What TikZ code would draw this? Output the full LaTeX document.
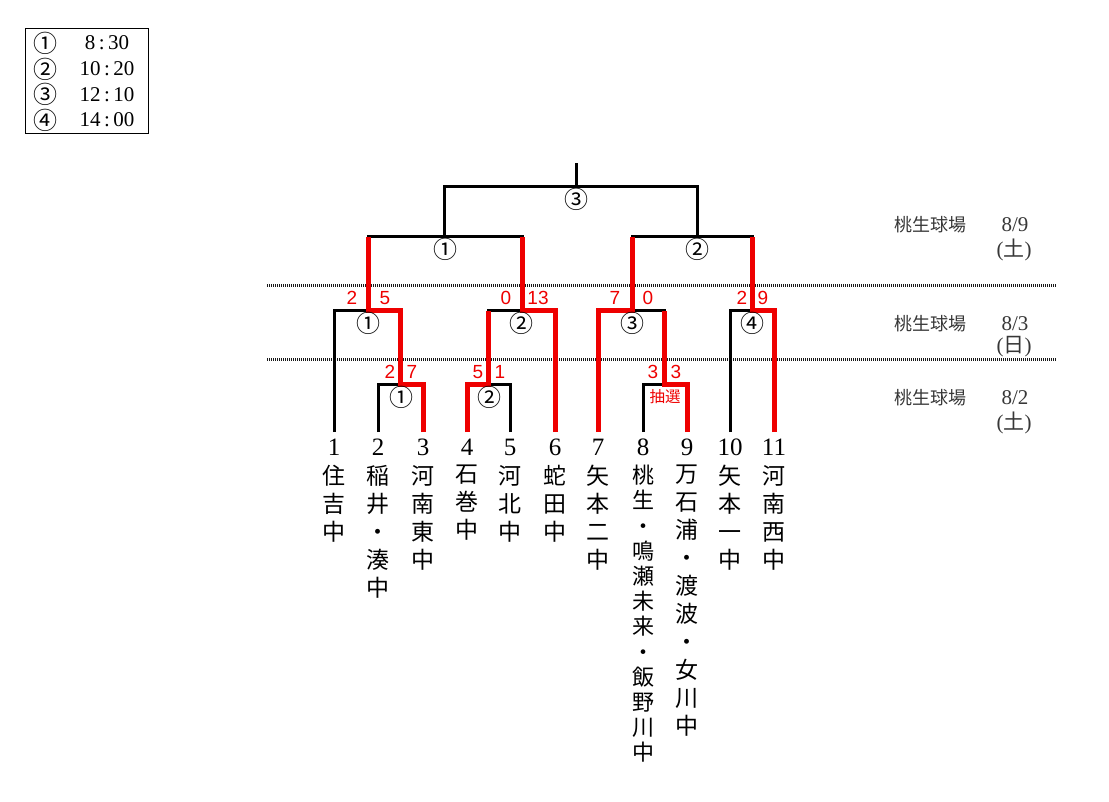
\documentclass[tikz,border=0pt]{standalone}
\usepackage{fontspec}
\setmainfont{Liberation Serif}
\newfontfamily\jpfont{Noto Sans CJK JP}
\newfontfamily\gothfont{Liberation Sans}
\definecolor{bred}{RGB}{238,0,0}
\definecolor{dgray}{RGB}{55,55,55}
\begin{document}
\begin{tikzpicture}[x=1pt,y=-1pt,
  blk/.style={line width=3pt, black},
  rd/.style={line width=5pt, bred},
  dots/.style={line width=3pt, dash pattern=on 1.2pt off 0.8pt, black!90},
  circ/.style={font=\jpfont\fontsize{24}{24}\selectfont, inner sep=0pt},
  score/.style={font=\gothfont\fontsize{19}{19}\selectfont, text=bred, inner sep=0pt},
  num/.style={font=\fontsize{25}{25}\selectfont, inner sep=0pt},
  team/.style={font=\jpfont\fontsize{23}{28}\selectfont, align=center, anchor=north, inner sep=0pt},
  teamsm/.style={font=\jpfont\fontsize{22}{25.2}\selectfont, align=center, anchor=north, inner sep=0pt},
  venue/.style={font=\jpfont\fontsize{18}{18}\selectfont, text=dgray, inner sep=0pt},
  date/.style={font=\fontsize{21}{21}\selectfont, text=dgray, inner sep=0pt},
  legtxt/.style={font=\fontsize{21}{21}\selectfont, inner sep=0pt},
]
\useasboundingbox (0,0) rectangle (1109,802);

% legend
\node[draw, line width=0.8pt, minimum width=123pt, minimum height=105pt, inner sep=0pt] (legend) at (86.5,80.5) {};
\node[circ] (lc1) at (46,43) {①};
\node[circ] (lc2) at (46,69) {②};
\node[circ] (lc3) at (46,94.5) {③};
\node[circ] (lc4) at (46,120) {④};
\node[legtxt] (lt1) at (107,43) {8\,:\,30};
\node[legtxt] (lt2) at (107,69) {10\,:\,20};
\node[legtxt] (lt3) at (107,94.5) {12\,:\,10};
\node[legtxt] (lt4) at (107,120) {14\,:\,00};

% dotted separators
\coordinate (d1a) at (267,286); \coordinate (d1b) at (1056,286);
\coordinate (d2a) at (267,360); \coordinate (d2b) at (1056,360);
\draw[dots] (d1a) -- (d1b);
\draw[dots] (d2a) -- (d2b);

% leaves
\foreach \i/\x in {1/334,2/378,3/423,4/467,5/510,6/555,7/598,8/643,9/687,10/730,11/774}{
  \coordinate (L\i) at (\x,432);
  \node[num] (n\i) at (\x,447) {\i};
}
% junctions
\coordinate (A1) at (400,385);
\coordinate (A2) at (488,385);
\coordinate (A3) at (664,385);
\coordinate (B1) at (368,311);
\coordinate (B2) at (522,311);
\coordinate (B3) at (632,311);
\coordinate (B4) at (752,311);
\coordinate (C1) at (444,237);
\coordinate (C2) at (697,237);
\coordinate (D) at (576,187);
\coordinate (T) at (576,163);

% black bracket
\draw[blk] (L2) |- (A1);
\draw[blk] (L5) |- (A2);
\draw[blk] (L8) |- (A3);
\draw[blk] (L1) |- (B1);
\draw[blk] (A2) |- (B2);
\draw[blk] (A3) |- (B3);
\draw[blk] (L10) |- (B4);
\draw[blk] (B1) |- (C1);
\draw[blk] (B2) |- (C1);
\draw[blk] (B3) |- (C2);
\draw[blk] (B4) |- (C2);
\draw[blk] (C1) |- (D);
\draw[blk] (C2) |- (D);
\draw[blk] (D) -- (T);

% winners (red)
\draw[rd] (L3) |- (A1) |- (B1) -- (B1 |- C1);
\draw[rd] (L4) |- (A2) -- (A2 |- B2);
\draw[rd] (L6) |- (B2) -- (B2 |- C1);
\draw[rd] (L7) |- (B3) -- (B3 |- C2);
\draw[rd] (L9) |- (A3) -- (A3 |- B3);
\draw[rd] (L11) |- (B4) -- (B4 |- C2);

% match labels
\node[circ] (mA1) at (401,397) {①};
\node[circ] (mA2) at (489,397) {②};
\node[font=\jpfont\fontsize{15.5}{15.5}\selectfont, text=bred, inner sep=0pt] (mA3) at (665,397) {抽選};
\node[circ] (mB1) at (368,323) {①};
\node[circ] (mB2) at (521,323) {②};
\node[circ] (mB3) at (632,323) {③};
\node[circ] (mB4) at (752,323) {④};
\node[circ] (mC1) at (445,249) {①};
\node[circ] (mC2) at (697,249) {②};
\node[circ] (mD) at (576,199) {③};

% scores
\node[score] (s1a) at (390,372) {2};
\node[score] (s1b) at (412,372) {7};
\node[score] (s2a) at (478,372) {5};
\node[score] (s2b) at (500,372) {1};
\node[score] (s3a) at (653,372) {3};
\node[score] (s3b) at (676,372) {3};
\node[score] (s4a) at (352,298) {2};
\node[score] (s4b) at (385,298) {5};
\node[score] (s5a) at (506,298) {0};
\node[score] (s5b) at (538,298) {13};
\node[score] (s6a) at (615,298) {7};
\node[score] (s6b) at (648,298) {0};
\node[score] (s7a) at (742,298) {2};
\node[score] (s7b) at (763,298) {9};

% teams
\node[team] (t1) at (334,465) {住\\吉\\中};
\node[team] (t2) at (378,465) {稲\\井\\・\\湊\\中};
\node[team] (t3) at (423,465) {河\\南\\東\\中};
\node[team] (t4) at (467,465) {石\\巻\\中};
\node[team] (t5) at (510,465) {河\\北\\中};
\node[team] (t6) at (555,465) {蛇\\田\\中};
\node[team] (t7) at (598,465) {矢\\本\\二\\中};
\node[teamsm] (t8) at (643,465) {桃\\生\\・\\鳴\\瀬\\未\\来\\・\\飯\\野\\川\\中};
\node[team] (t9) at (687,465) {万\\石\\浦\\・\\渡\\波\\・\\女\\川\\中};
\node[team] (t10) at (730,465) {矢\\本\\一\\中};
\node[team] (t11) at (774,465) {河\\南\\西\\中};

% venues and dates
\node[venue] (v1) at (930,225) {桃生球場};
\node[date] (dt1) at (1015,225) {8/9};
\node[date] (dw1) at (1014,250) {(\jpfont 土\rmfamily)};
\node[venue] (v2) at (930,324) {桃生球場};
\node[date] (dt2) at (1015,324) {8/3};
\node[date] (dw2) at (1014,347) {(\jpfont 日\rmfamily)};
\node[venue] (v3) at (930,398) {桃生球場};
\node[date] (dt3) at (1015,398) {8/2};
\node[date] (dw3) at (1014,423) {(\jpfont 土\rmfamily)};
\end{tikzpicture}
\end{document}
